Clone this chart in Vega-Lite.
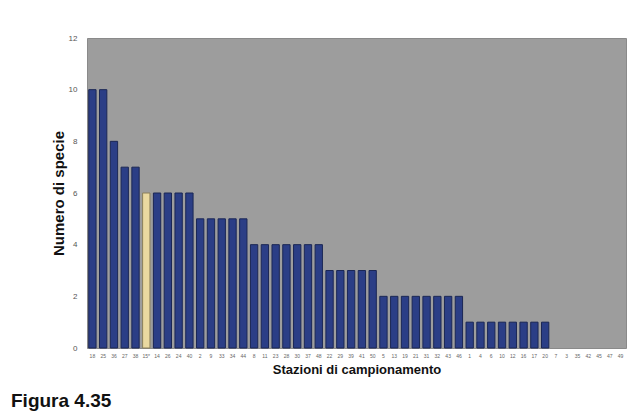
{
  "$schema": "https://vega.github.io/schema/vega-lite/v6.json",
  "autosize": {"type": "none"},
  "width": 539,
  "height": 310,
  "padding": {"left": 87, "top": 38, "right": 7, "bottom": 65},
  "background": "#ffffff",
  "title": {
    "text": "Figura 4.35",
    "orient": "bottom",
    "anchor": "start",
    "frame": "group",
    "dx": -76,
    "offset": 16,
    "font": "Liberation Sans",
    "fontSize": 19,
    "fontWeight": "bold",
    "color": "#111111"
  },
  "data": {
    "values": [
      {"stazione": "18", "specie": 10, "tipo": "n"},
      {"stazione": "25", "specie": 10, "tipo": "n"},
      {"stazione": "36", "specie": 8, "tipo": "n"},
      {"stazione": "27", "specie": 7, "tipo": "n"},
      {"stazione": "38", "specie": 7, "tipo": "n"},
      {"stazione": "15*", "specie": 6, "tipo": "y"},
      {"stazione": "14", "specie": 6, "tipo": "n"},
      {"stazione": "26", "specie": 6, "tipo": "n"},
      {"stazione": "24", "specie": 6, "tipo": "n"},
      {"stazione": "40", "specie": 6, "tipo": "n"},
      {"stazione": "2", "specie": 5, "tipo": "n"},
      {"stazione": "9", "specie": 5, "tipo": "n"},
      {"stazione": "33", "specie": 5, "tipo": "n"},
      {"stazione": "34", "specie": 5, "tipo": "n"},
      {"stazione": "44", "specie": 5, "tipo": "n"},
      {"stazione": "8", "specie": 4, "tipo": "n"},
      {"stazione": "11", "specie": 4, "tipo": "n"},
      {"stazione": "23", "specie": 4, "tipo": "n"},
      {"stazione": "28", "specie": 4, "tipo": "n"},
      {"stazione": "30", "specie": 4, "tipo": "n"},
      {"stazione": "37", "specie": 4, "tipo": "n"},
      {"stazione": "48", "specie": 4, "tipo": "n"},
      {"stazione": "22", "specie": 3, "tipo": "n"},
      {"stazione": "29", "specie": 3, "tipo": "n"},
      {"stazione": "39", "specie": 3, "tipo": "n"},
      {"stazione": "41", "specie": 3, "tipo": "n"},
      {"stazione": "50", "specie": 3, "tipo": "n"},
      {"stazione": "5", "specie": 2, "tipo": "n"},
      {"stazione": "13", "specie": 2, "tipo": "n"},
      {"stazione": "19", "specie": 2, "tipo": "n"},
      {"stazione": "21", "specie": 2, "tipo": "n"},
      {"stazione": "31", "specie": 2, "tipo": "n"},
      {"stazione": "32", "specie": 2, "tipo": "n"},
      {"stazione": "43", "specie": 2, "tipo": "n"},
      {"stazione": "46", "specie": 2, "tipo": "n"},
      {"stazione": "1", "specie": 1, "tipo": "n"},
      {"stazione": "4", "specie": 1, "tipo": "n"},
      {"stazione": "6", "specie": 1, "tipo": "n"},
      {"stazione": "10", "specie": 1, "tipo": "n"},
      {"stazione": "12", "specie": 1, "tipo": "n"},
      {"stazione": "16", "specie": 1, "tipo": "n"},
      {"stazione": "17", "specie": 1, "tipo": "n"},
      {"stazione": "20", "specie": 1, "tipo": "n"},
      {"stazione": "7", "specie": 0, "tipo": "n"},
      {"stazione": "3", "specie": 0, "tipo": "n"},
      {"stazione": "35", "specie": 0, "tipo": "n"},
      {"stazione": "42", "specie": 0, "tipo": "n"},
      {"stazione": "45", "specie": 0, "tipo": "n"},
      {"stazione": "47", "specie": 0, "tipo": "n"},
      {"stazione": "49", "specie": 0, "tipo": "n"}
    ]
  },
  "mark": {"type": "bar", "strokeWidth": 1},
  "encoding": {
    "x": {
      "field": "stazione",
      "type": "nominal",
      "sort": null,
      "scale": {"paddingInner": 0.32, "paddingOuter": 0.16},
      "axis": {
        "title": "Stazioni di campionamento",
        "titleFont": "Liberation Sans",
        "titleFontSize": 13,
        "titleFontWeight": "bold",
        "titleColor": "#111111",
        "titlePadding": 5,
        "labelAngle": 0,
        "labelFontSize": 5,
        "labelColor": "#666666",
        "labelPadding": 5,
        "ticks": false,
        "domain": false
      }
    },
    "y": {
      "field": "specie",
      "type": "quantitative",
      "scale": {"domain": [0, 12]},
      "axis": {
        "title": "Numero di specie",
        "titleFont": "Liberation Sans",
        "titleFontSize": 15,
        "titleFontWeight": "bold",
        "titleColor": "#111111",
        "titlePadding": 2,
        "values": [0, 2, 4, 6, 8, 10, 12],
        "labelFont": "Liberation Sans",
        "labelFontSize": 8,
        "labelColor": "#555555",
        "labelPadding": 10,
        "ticks": false,
        "domain": false,
        "grid": false
      }
    },
    "color": {
      "field": "tipo",
      "type": "nominal",
      "scale": {"domain": ["n", "y"], "range": ["#2b3e86", "#ead9a0"]},
      "legend": null
    },
    "stroke": {
      "field": "tipo",
      "type": "nominal",
      "scale": {"domain": ["n", "y"], "range": ["#1b2755", "#8a7f5a"]},
      "legend": null
    },
    "strokeOpacity": {
      "condition": {"test": "datum.specie == 0", "value": 0},
      "value": 1
    }
  },
  "config": {
    "view": {"fill": "#9d9d9d", "stroke": "#8a8a8a", "strokeWidth": 1}
  }
}
